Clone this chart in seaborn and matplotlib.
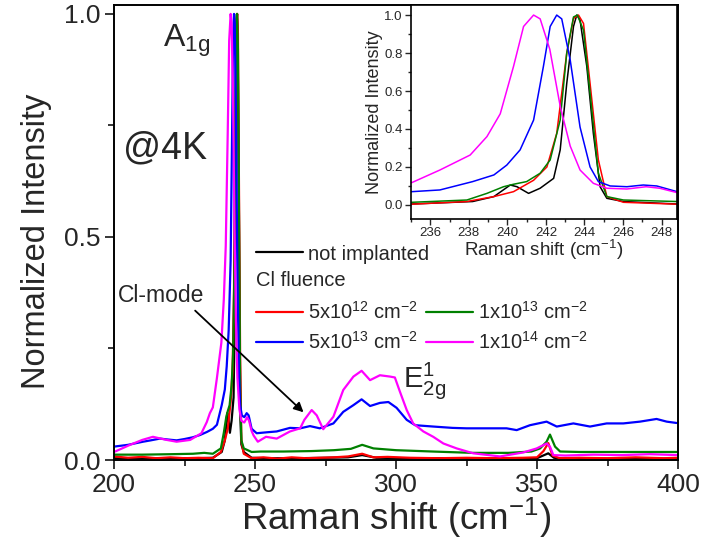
import matplotlib
matplotlib.use("Agg")
import matplotlib.pyplot as plt
from matplotlib.ticker import MultipleLocator
from matplotlib.lines import Line2D
import seaborn as sns
import pandas as pd

# ---------------- data ----------------
black_x = [200, 210, 220, 230, 235.05, 238.2, 239.3, 240.15, 240.5, 241.1, 241.7, 242.4, 242.74,
           243.08, 243.43, 243.6, 243.77, 244.12, 244.46, 244.81, 245.16, 246.02, 248.8, 255, 265,
           275, 283, 288, 293, 305, 320, 340, 350, 354, 356, 360, 375, 390, 400]
black_y = [0.004, 0.003, 0.004, 0.004, 0.005, 0.018, 0.044, 0.105, 0.096, 0.061, 0.088, 0.14, 0.29,
           0.64, 0.94, 1.0, 0.974, 0.73, 0.377, 0.096, 0.035, 0.018, 0.005, 0.004, 0.004,
           0.005, 0.006, 0.011, 0.005, 0.004, 0.004, 0.003, 0.004, 0.015, 0.005, 0.003, 0.003, 0.003, 0.003]

red_x = [200, 205, 210, 215, 220, 225, 230, 235.05, 237.9, 239.3, 240.32, 241.36, 242.05, 242.56,
         243.08, 243.43, 243.69, 243.95, 244.29, 244.72, 245.16, 246.02, 248.8, 253, 258, 263, 268,
         273, 278, 283, 288, 292, 297, 305, 315, 325, 335, 345, 350, 352.3, 354, 355.5, 358, 365,
         375, 385, 395, 400]
red_y = [0.008, 0.005, 0.007, 0.004, 0.006, 0.004, 0.005, 0.004, 0.018, 0.044, 0.07, 0.13, 0.2, 0.377,
         0.8, 0.982, 1.0, 0.956, 0.64, 0.237, 0.044, 0.014, 0.004, 0.006, 0.003, 0.006, 0.004,
         0.005, 0.006, 0.008, 0.014, 0.006, 0.007, 0.005, 0.004, 0.005, 0.004, 0.005, 0.006, 0.02,
         0.038, 0.01, 0.004, 0.005, 0.004, 0.006, 0.004, 0.005]

green_x = [200, 210, 220, 228, 232, 235.05, 237.9, 238.94, 239.8, 240.32, 241.0, 241.7, 242.22,
           242.74, 243.08, 243.43, 243.63, 243.95, 244.29, 244.72, 245.16, 246.02, 248.8, 252, 260,
           270, 278, 284, 288, 292, 300, 313, 327, 340, 348, 351.1, 353.4, 354.6, 356.4, 358.2,
           365, 380, 400]
green_y = [0.012, 0.012, 0.013, 0.014, 0.016, 0.014, 0.026, 0.061, 0.096, 0.109, 0.123, 0.167, 0.237,
           0.447, 0.8, 0.99, 1.0, 0.92, 0.59, 0.167, 0.044, 0.026, 0.018, 0.019, 0.019,
           0.02, 0.022, 0.025, 0.034, 0.026, 0.022, 0.019, 0.016, 0.016, 0.019, 0.026, 0.041, 0.057,
           0.03, 0.019, 0.018, 0.018, 0.018]

blue_x = [200, 205, 210.3, 213, 216.3, 219, 222.2, 225, 228, 230.5, 233, 235.05, 236.5, 238.2,
          239.3, 239.97, 240.66, 241.36, 241.87, 242.22, 242.56, 242.82, 243.26, 243.77, 244.29,
          244.72, 245.33, 246.2, 247.05, 247.75, 248.8, 250.6, 254, 257.7, 262.4, 266, 269.5, 273,
          277.8, 281.3, 284.9, 287.8, 290.8, 294.3, 297.3, 300.2, 303.8, 306.8, 313.2, 320, 325,
          333.3, 339.2, 342.8, 347.5, 353.4, 357, 362.9, 368.8, 374.7, 380.6, 386.5, 392.4, 396, 399.5]
blue_y = [0.03, 0.034, 0.041, 0.044, 0.048, 0.046, 0.044, 0.047, 0.051, 0.056, 0.063, 0.07, 0.079, 0.123,
          0.158, 0.21, 0.29, 0.447, 0.73, 0.94, 1.0, 0.98, 0.763, 0.41, 0.2,
          0.123, 0.1, 0.096, 0.105, 0.1, 0.07, 0.06, 0.062, 0.064, 0.072, 0.071, 0.076, 0.071,
          0.082, 0.108, 0.123, 0.136, 0.121, 0.128, 0.13, 0.117, 0.09, 0.078, 0.075, 0.072, 0.071,
          0.071, 0.071, 0.067, 0.078, 0.086, 0.075, 0.082, 0.075, 0.082, 0.082, 0.086, 0.092, 0.086, 0.083]

magenta_x = [200.4, 205.7, 210, 213.8, 218.7, 222.2, 227, 231, 232.9, 234, 235.05, 236.5, 238.07,
             238.94, 239.63, 240.32, 240.84, 241.36, 241.7, 242.2, 242.74, 243.26, 243.77, 244.46,
             245.16, 246.2, 247.2, 247.9, 248.8, 249.5, 251, 253.9, 257.7, 262.4, 266, 267.5, 270.1,
             271.9, 274.2, 277.8, 281.3, 284.9, 287.8, 290.8, 294.3, 297.9, 299.6, 301.4, 303.8,
             306.1, 309.7, 313.2, 316.8, 321.5, 327.4, 336.9, 345.2, 349.9, 353.4, 354.6, 355.8,
             360, 370, 380, 390, 400]
magenta_y = [0.019, 0.034, 0.045, 0.052, 0.045, 0.041, 0.045, 0.06, 0.085, 0.105, 0.118, 0.184, 0.263,
             0.36, 0.48, 0.73, 0.94, 1.0, 0.98, 0.82, 0.52, 0.31, 0.184, 0.114,
             0.088, 0.084, 0.096, 0.088, 0.065, 0.055, 0.041, 0.052, 0.048, 0.064, 0.071, 0.09, 0.112,
             0.1, 0.069, 0.097, 0.157, 0.187, 0.2, 0.179, 0.19, 0.187, 0.185, 0.153, 0.112,
             0.082, 0.064, 0.052, 0.037, 0.026, 0.015, 0.008, 0.017, 0.026, 0.037, 0.03, 0.011,
             0.01, 0.012, 0.011, 0.013, 0.011]

series_labels = ["not implanted", "5x10$^{12}$ cm$^{-2}$", "1x10$^{13}$ cm$^{-2}$",
                 "5x10$^{13}$ cm$^{-2}$", "1x10$^{14}$ cm$^{-2}$"]
series_colors = ["#000000", "#FF0000", "#008000", "#0000FF", "#FF00FF"]
series_x = [black_x, red_x, green_x, blue_x, magenta_x]
series_y = [black_y, red_y, green_y, blue_y, magenta_y]

# ---------------- style ----------------
sns.set_style("ticks")
plt.rcParams['font.family'] = ['Liberation Sans', 'DejaVu Sans']
plt.rcParams['mathtext.fontset'] = 'custom'
plt.rcParams['mathtext.rm'] = 'Liberation Sans'
plt.rcParams['mathtext.it'] = 'Liberation Sans'
plt.rcParams['mathtext.bf'] = 'Liberation Sans:bold'

fig = plt.figure(figsize=(7.02, 5.46), dpi=100)
fig.patch.set_facecolor("white")
W, H = 702, 546
ax = fig.add_axes([114 / W, 1 - 460 / H, (678 - 114) / W, (460 - 5) / H])

frames = []
for lab, x, y in zip(series_labels, series_x, series_y):
    frames.append(pd.DataFrame({"x": x, "y": y, "s": lab}))
df = pd.concat(frames, ignore_index=True)

for lab, col in zip(series_labels, series_colors):
    d = df[df.s == lab]
    sns.lineplot(data=d, x="x", y="y", ax=ax, color=col, lw=1.6, sort=False,
                 estimator=None, legend=False)

ax.set_xlim(200, 400)
ax.set_ylim(0, 1.02)
ax.xaxis.set_major_locator(MultipleLocator(50))
ax.xaxis.set_minor_locator(MultipleLocator(25))
ax.yaxis.set_major_locator(MultipleLocator(0.5))
ax.yaxis.set_minor_locator(MultipleLocator(0.25))
ax.tick_params(which='major', direction='out', length=6.5, width=1.3, labelsize=19, pad=3)
ax.tick_params(which='minor', direction='out', length=4, width=1.3)
for s in ax.spines.values():
    s.set_linewidth(1.4)
    s.set_color("black")
ax.set_xlabel("Raman shift (cm$^{-1}$)", fontsize=26.5, labelpad=-1)
ax.set_ylabel("Normalized Intensity", fontsize=23.5, labelpad=9)
ax.yaxis.label.set_y(0.481)

# annotations
ax.text(217.4, 0.926, "A$_{1g}$", fontsize=23, ha='left', va='baseline')
ax.text(203.3, 0.677, "@4K", fontsize=27, ha='left', va='baseline')
ax.text(302.5, 0.164, r"$\mathregular{E^1_{2g}}$", fontsize=21, ha='left', va='baseline')
ax.annotate("Cl-mode", xy=(267.2, 0.107), xytext=(201.5, 0.368), fontsize=16.5,
            ha='left', va='center',
            arrowprops=dict(arrowstyle='-|>', color='black', lw=1.3, shrinkA=0, shrinkB=0,
                            mutation_scale=14, relpos=(0.85, 0.0)))

# legends
LF = 14.5
h = [Line2D([], [], color=c, lw=1.6) for c in series_colors]
leg1 = ax.legend([h[0]], [series_labels[0]], loc='center left', bbox_to_anchor=(0.2518, 0.4527),
                 frameon=False, fontsize=LF, handlelength=2.33, handletextpad=0.25,
                 borderaxespad=0, borderpad=0)
ax.add_artist(leg1)
ax.text(0.2518, 0.3956, "Cl fluence", transform=ax.transAxes, fontsize=LF, ha='left', va='center')
leg2 = ax.legend([h[1], h[3], h[2], h[4]],
                 [series_labels[1], series_labels[3], series_labels[2], series_labels[4]],
                 ncol=2, loc='center left', bbox_to_anchor=(0.2518, 0.293), frameon=False,
                 fontsize=LF, handlelength=2.33, handletextpad=0.25, columnspacing=0.4,
                 labelspacing=0.4, borderaxespad=0, borderpad=0)

# inset
ax2 = fig.add_axes([411 / W, 1 - 219 / H, 266 / W, 214 / H])
ax2.set_facecolor("white")
for lab, col in zip(series_labels, series_colors):
    d = df[df.s == lab]
    sns.lineplot(data=d, x="x", y="y", ax=ax2, color=col, lw=1.1, sort=False,
                 estimator=None, legend=False)
ax2.set_xlim(235, 248.8)
ax2.set_ylim(-0.074, 1.053)
ax2.xaxis.set_major_locator(MultipleLocator(2))
ax2.xaxis.set_minor_locator(MultipleLocator(1))
ax2.yaxis.set_major_locator(MultipleLocator(0.2))
ax2.yaxis.set_minor_locator(MultipleLocator(0.1))
ax2.tick_params(which='major', direction='out', length=4, width=1.0, labelsize=9.5, pad=2)
ax2.tick_params(which='minor', direction='out', length=2.5, width=1.0)
for s in ax2.spines.values():
    s.set_linewidth(1.2)
    s.set_color("black")
ax2.set_xlabel("Raman shift (cm$^{-1}$)", fontsize=13.5, labelpad=-1)
ax2.set_ylabel("Normalized Intensity", fontsize=13, labelpad=1)

fig.savefig("out.png", dpi=100, facecolor="white")
